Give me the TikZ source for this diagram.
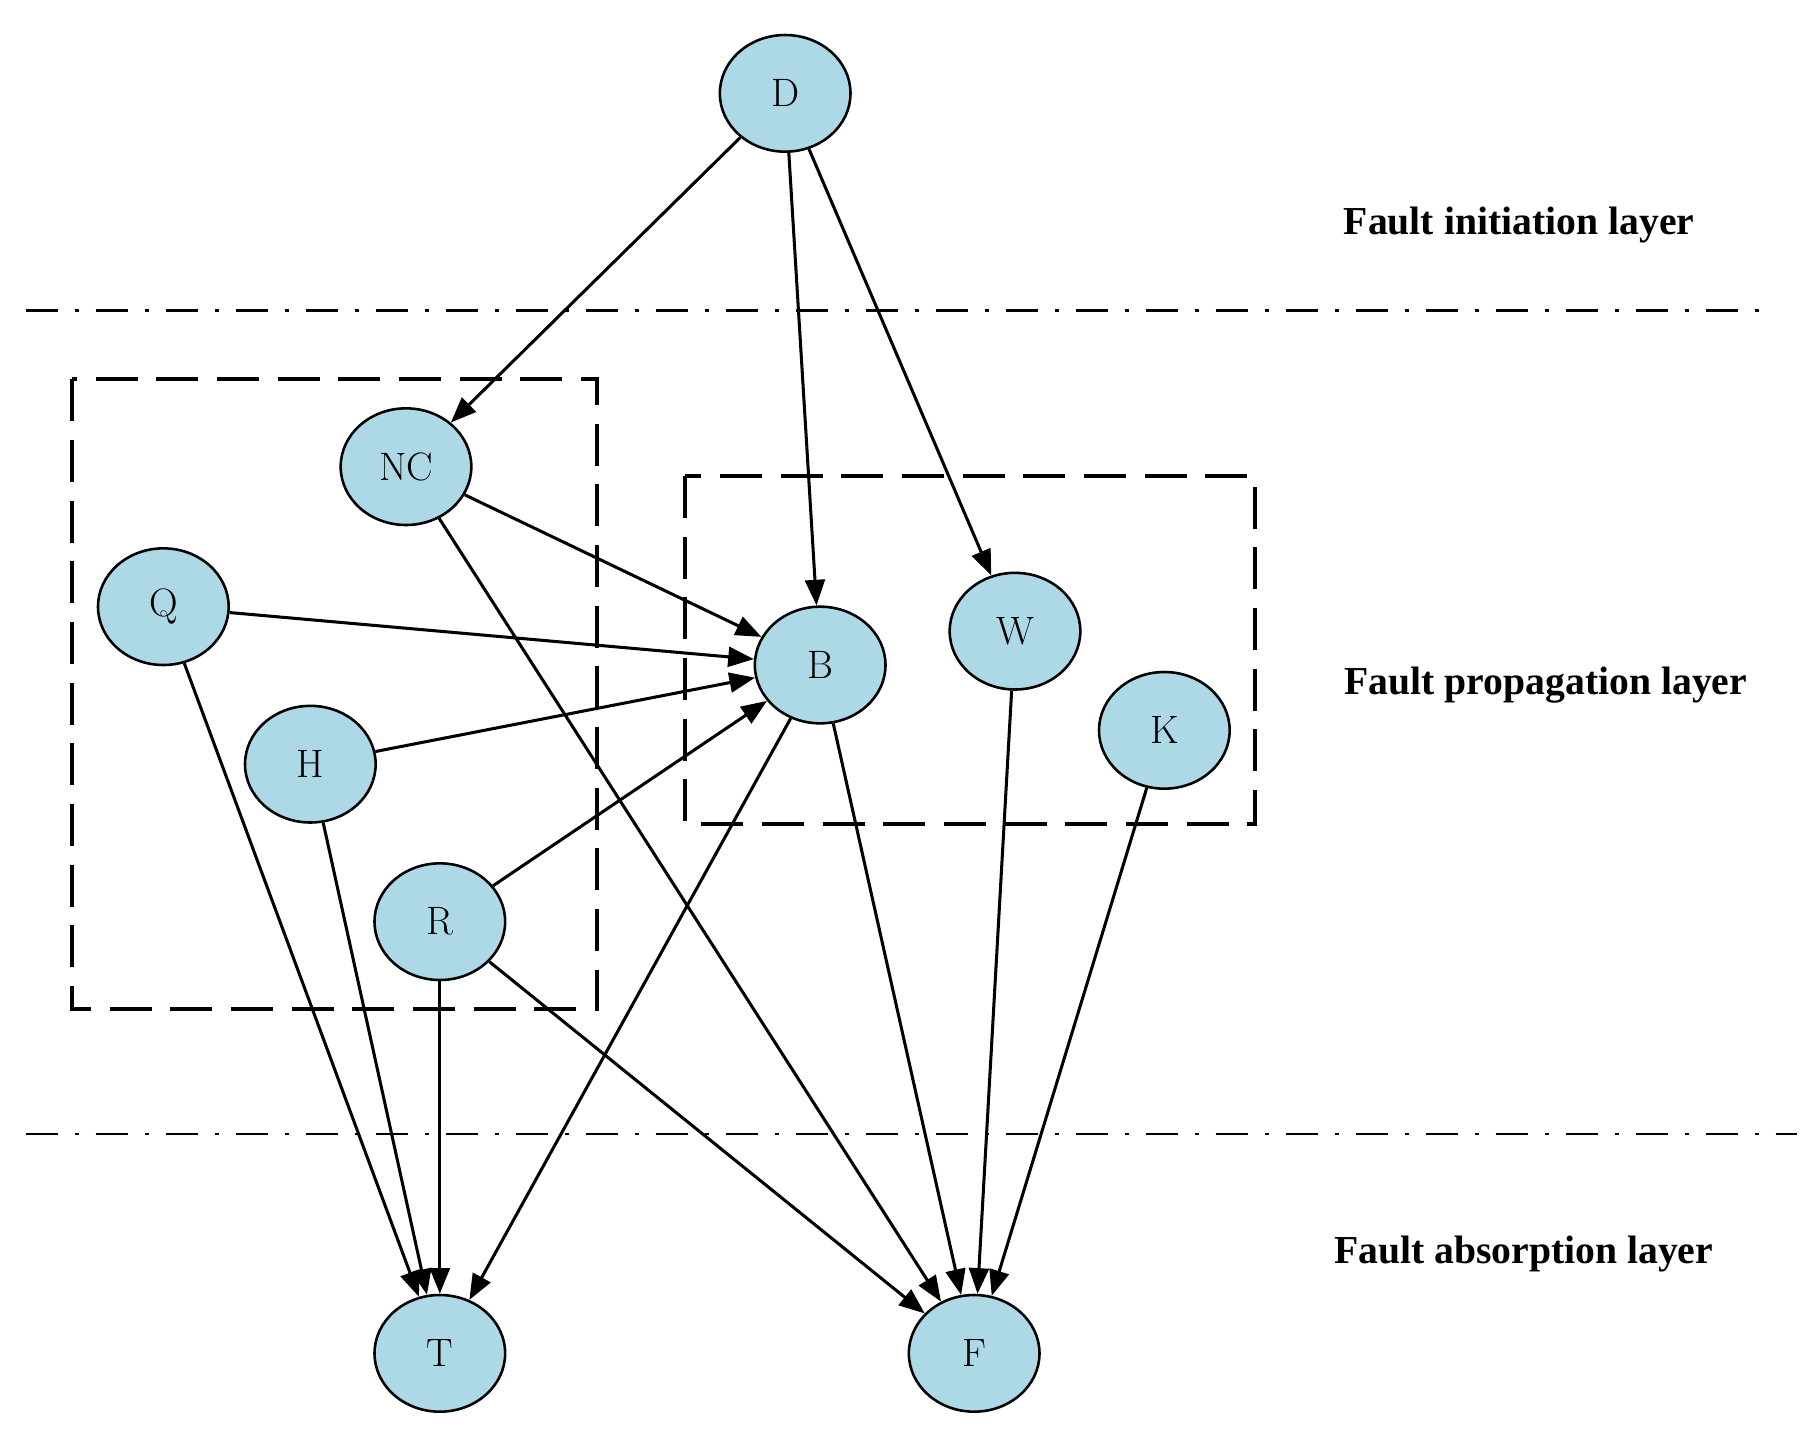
\documentclass[tikz,border=0pt]{standalone}
\usepackage{fontspec}
\newfontfamily\lblfont{Liberation Serif}
\usetikzlibrary{arrows.meta,shapes.geometric}
\begin{document}
\begin{tikzpicture}[x=1pt,y=-1pt,
  nd/.style={ellipse,draw,line width=2.2pt,fill={rgb,255:red,173;green,216;blue,230},minimum width=112pt,minimum height=100pt,inner sep=0pt,font=\rmfamily\fontsize{34}{34}\selectfont},
  ed/.style={line width=2.6pt,-{Triangle[length=22pt,width=17pt]}},
  lbl/.style={font=\lblfont\bfseries\fontsize{34}{34}\selectfont},
  box/.style={line width=3.5pt,dash pattern=on 36pt off 16pt},
  sep/.style={line width=2.5pt,dash pattern=on 28pt off 14pt on 4pt off 14pt}]
\useasboundingbox (0,0) rectangle (1560,1234);
\draw[box] (62,325) rectangle (512,865);
\draw[box] (587,408) rectangle (1076,706);
\coordinate (s1a) at (22,266); \coordinate (s1b) at (1510,266);
\coordinate (s2a) at (22,972); \coordinate (s2b) at (1540,972);
\draw[sep] (s1a) -- (s1b);
\draw[sep] (s2a) -- (s2b);
\node[lbl] (l1) at (1302,193) {Fault initiation layer};
\node[lbl] (l2) at (1325,587) {Fault propagation layer};
\node[lbl] (l3) at (1306,1075) {Fault absorption layer};
\node[nd] (D) at (673,80) {D};
\node[nd] (NC) at (348,400) {NC};
\node[nd] (Q) at (140,520) {Q};
\node[nd] (H) at (266,655) {H};
\node[nd] (R) at (377,790) {R};
\node[nd] (B) at (703,570) {B};
\node[nd] (W) at (870,541) {W};
\node[nd] (K) at (998,626) {K};
\node[nd] (T) at (377,1160) {T};
\node[nd] (F) at (835,1160) {F};
\foreach \a/\b in {D/NC,D/B,D/W,NC/B,NC/F,Q/B,Q/T,H/B,H/T,R/B,R/T,R/F,B/T,B/F,W/F,K/F}
  \draw[ed] (\a) -- (\b);
\end{tikzpicture}
\end{document}
